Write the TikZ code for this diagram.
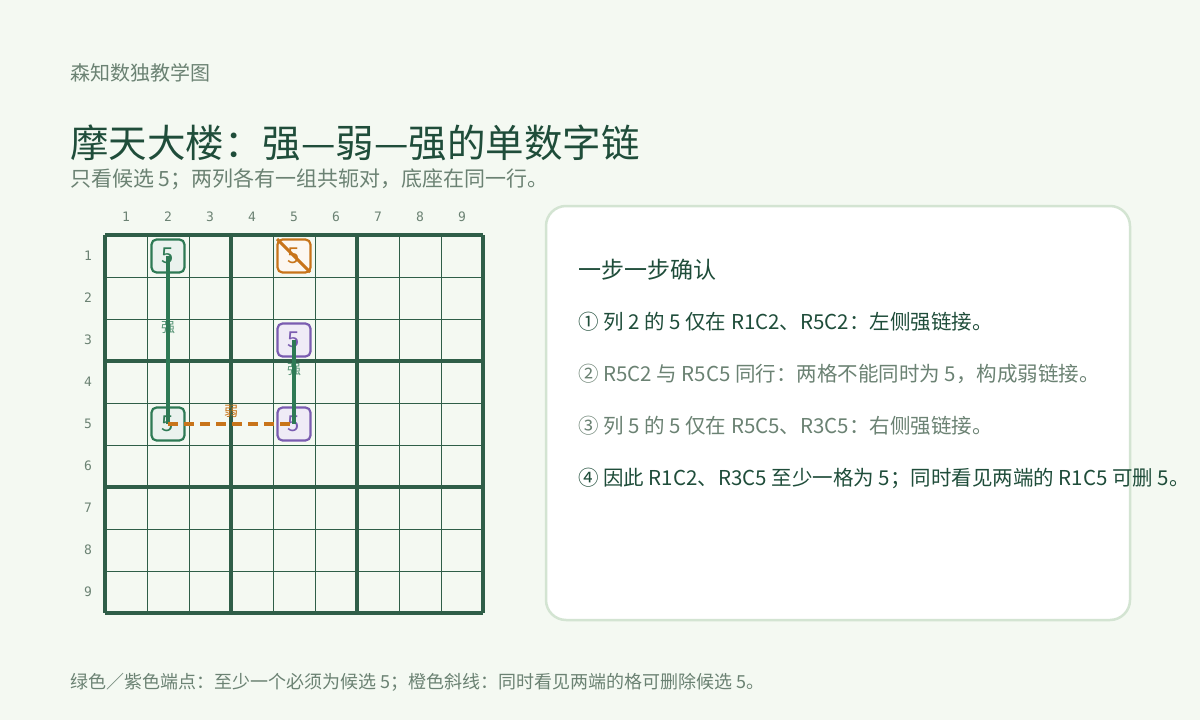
\documentclass[tikz,border=0pt]{standalone}
\usepackage{fontspec}
\setmainfont{Noto Sans CJK SC}
\newfontfamily\gridfont{DejaVu Sans Mono}
\usetikzlibrary{positioning}
\definecolor{bg}{HTML}{F4F9F2}
\definecolor{ink}{HTML}{1F4D3A}
\definecolor{muted}{HTML}{6B8273}
\definecolor{gridc}{HTML}{2F5E48}
\definecolor{strongc}{HTML}{2E7A55}
\definecolor{weakc}{HTML}{C8741A}
\definecolor{purp}{HTML}{7A5CB0}
\definecolor{panelc}{HTML}{D3E4D2}

\begin{document}
\begin{tikzpicture}[x=1pt, y=-1pt,
    cand/.style={rectangle, rounded corners=5pt, minimum width=33pt, minimum height=33pt,
      inner sep=0pt, line width=2.2pt, font=\fontsize{22}{22}\selectfont},
    greencand/.style={cand, draw=strongc, fill=strongc!10, text=strongc},
    purplecand/.style={cand, draw=purp, fill=purp!12, text=purp},
    elimcand/.style={cand, draw=weakc, fill=weakc!6, text=weakc},
    strong/.style={strongc, line width=4pt},
    weak/.style={weakc, line width=3.5pt, dash pattern=on 10pt off 6pt},
    linklabel/.style={font=\fontsize{14}{14}\selectfont, inner sep=0pt},
    itemtext/.style={anchor=west, inner sep=0pt, font=\fontsize{20.5}{20.5}\selectfont}]
    % background
    \fill[bg] (0,0) rectangle (1200,720);
    % headings
    \node (brand) [anchor=west, inner sep=0pt, text=muted, font=\fontsize{20}{20}\selectfont] at (70,73) {森知数独教学图};
    \node (title) [anchor=west, inner sep=0pt, text=ink, font=\fontsize{38.5}{38.5}\selectfont] at (70,143) {摩天大楼：强—弱—强的单数字链};
    \node (subtitle) [anchor=west, inner sep=0pt, text=muted, font=\fontsize{21}{21}\selectfont] at (70,179) {只看候选 5；两列各有一组共轭对，底座在同一行。};
    % grid
    \foreach \i in {0,...,9} {
        \draw[gridc, line width=0.8pt] (105+42*\i,235) -- (105+42*\i,613);
        \draw[gridc, line width=0.8pt] (105,235+42*\i) -- (483,235+42*\i);
    }
    \foreach \i in {0,3,6,9} {
        \draw[gridc, line width=3.5pt] (105+42*\i,235) -- (105+42*\i,613);
        \draw[gridc, line width=3.5pt] (105,235+42*\i) -- (483,235+42*\i);
    }
    \foreach \n in {1,...,9} {
        \node[text=muted, font=\gridfont\fontsize{13}{13}\selectfont] at (84+42*\n,217) {\n};
        \node[text=muted, font=\gridfont\fontsize{13}{13}\selectfont] at (88,214+42*\n) {\n};
    }
    % candidates
    \node (c12) [greencand] at (168,256) {5};
    \node (c52) [greencand] at (168,424) {5};
    \node (c35) [purplecand] at (294,340) {5};
    \node (c55) [purplecand] at (294,424) {5};
    \node (c15) [elimcand] at (294,256) {5};
    \draw[weakc, line width=3pt, shorten <=1pt, shorten >=2pt] (c15.north west) -- (c15.south east);
    % links
    \node (s1) [linklabel, text=strongc!80] at (168,328) {强};
    \node (s2) [linklabel, text=strongc!80] at (294,370) {强};
    \node (w1) [linklabel, text=weakc] at (231,411) {弱};
    \draw[strong] (c12.center) -- (c52.center);
    \draw[strong] (c35.center) -- (c55.center);
    \draw[weak] (c52.center) -- (c55.center);
    % panel
    \draw[panelc, fill=white, line width=2.5pt, rounded corners=20pt] (546,206) rectangle (1130,620);
    \node (head) [anchor=west, inner sep=0pt, text=ink, font=\fontsize{23}{23}\selectfont] at (578,270) {一步一步确认};
    \node (st1) [itemtext, text=ink] at (578,322) {① 列 2 的 5 仅在 R1C2、R5C2：左侧强链接。};
    \node (st2) [itemtext, text=muted] at (578,374) {② R5C2 与 R5C5 同行：两格不能同时为 5，构成弱链接。};
    \node (st3) [itemtext, text=muted] at (578,426) {③ 列 5 的 5 仅在 R5C5、R3C5：右侧强链接。};
    \node (st4) [itemtext, text=ink] at (578,478) {④ 因此 R1C2、R3C5 至少一格为 5；同时看见两端的 R1C5 可删 5。};
    % footer
    \node (foot) [anchor=west, inner sep=0pt, text=muted, font=\fontsize{18}{18}\selectfont] at (70,682) {绿色／紫色端点：至少一个必须为候选 5；橙色斜线：同时看见两端的格可删除候选 5。};
\end{tikzpicture}
\end{document}
